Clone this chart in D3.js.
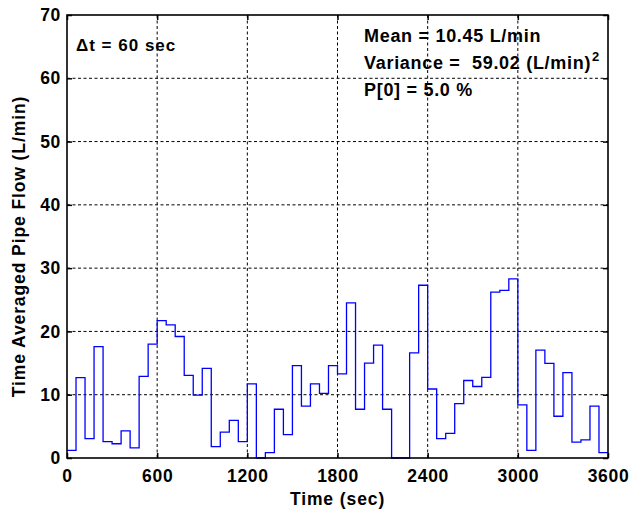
<!DOCTYPE html>
<html>
<head>
<meta charset="utf-8">
<script src="https://cdn.jsdelivr.net/npm/d3@7"></script>
<style>
  html, body { margin: 0; padding: 0; background: #fff; }
  svg { display: block; }
  text { font-family: "Liberation Sans", Arial, Helvetica, sans-serif; font-weight: bold; fill: #000; white-space: pre; }
</style>
</head>
<body>
<svg id="chart" width="635" height="516"></svg>
<script>
// Time-averaged flow, one value per 60 s interval (L/min)
const dt = 60;
const flows = [
  1.2, 12.7, 3.05, 17.6, 2.6, 2.25, 4.3, 1.6, 12.9, 18.0,
  21.7, 21.05, 19.2, 13.05, 9.95, 14.15, 1.8, 4.1, 5.95, 2.6,
  11.7, 0, 0.85, 7.7, 3.7, 14.6, 8.2, 11.7, 10.2, 14.6,
  13.3, 24.5, 7.7, 15.0, 17.85, 7.7, 0, 0, 16.6, 27.3,
  10.9, 3.05, 3.9, 8.6, 12.25, 11.3, 12.75, 26.2, 26.5, 28.3,
  8.4, 1.2, 17.05, 14.95, 6.6, 13.5, 2.5, 2.85, 8.2, 0.85
];
const xTicks = [0, 600, 1200, 1800, 2400, 3000, 3600];
const yTicks = [0, 10, 20, 30, 40, 50, 60, 70];
const xLabel = "Time (sec)";
const yLabel = "Time Averaged Pipe Flow (L/min)";
const dtNote = "\u0394t = 60 sec";
const statLines = ["Mean = 10.45 L/min", "Variance =  59.02 (L/min)", "P[0] = 5.0 %"];

const W = 635, H = 516;
const margin = { top: 15, right: 27, bottom: 58, left: 67 };
const svg = d3.select("#chart");

const x = d3.scaleLinear().domain([0, 3600]).range([margin.left, W - margin.right]);
const y = d3.scaleLinear().domain([0, 70]).range([H - margin.bottom, margin.top]);

// Dashed grid
const grid = svg.append("g").attr("stroke", "#000").attr("stroke-width", 1)
  .attr("stroke-dasharray", "3,2.5").attr("fill", "none");
xTicks.slice(1, -1).forEach(t => {
  grid.append("line").attr("x1", x(t)).attr("x2", x(t)).attr("y1", y(0)).attr("y2", y(70));
});
yTicks.slice(1, -1).forEach(t => {
  grid.append("line").attr("y1", y(t)).attr("y2", y(t)).attr("x1", x(0)).attr("x2", x(3600));
});

// Stair line: each value holds over its interval
const pts = flows.map((v, i) => [i * dt, v]);
pts.push([flows.length * dt, flows[flows.length - 1]]);
const line = d3.line().x(d => x(d[0])).y(d => y(d[1])).curve(d3.curveStepAfter);
svg.append("path").datum(pts).attr("d", line)
  .attr("fill", "none").attr("stroke", "#0000ff").attr("stroke-width", 1.3);

// Axes with inward ticks on all four sides
const fontSize = "17.5px";
const fmt = d3.format("d");
const gx = svg.append("g").attr("transform", `translate(0,${y(0)})`)
  .call(d3.axisBottom(x).tickValues(xTicks).tickFormat(fmt).tickSizeInner(-5).tickSizeOuter(0).tickPadding(12));
const gy = svg.append("g").attr("transform", `translate(${x(0)},0)`)
  .call(d3.axisLeft(y).tickValues(yTicks).tickFormat(fmt).tickSizeInner(-5).tickSizeOuter(0).tickPadding(6));
const gt = svg.append("g").attr("transform", `translate(0,${y(70)})`)
  .call(d3.axisTop(x).tickValues(xTicks).tickSizeInner(-5).tickSizeOuter(0).tickFormat(""));
const gr = svg.append("g").attr("transform", `translate(${x(3600)},0)`)
  .call(d3.axisRight(y).tickValues(yTicks).tickSizeInner(-5).tickSizeOuter(0).tickFormat(""));
[gx, gy, gt, gr].forEach(g => {
  g.select(".domain").remove();
  g.selectAll(".tick line").attr("stroke", "#000").attr("stroke-width", 1.5);
  g.selectAll("text").attr("font-size", fontSize).attr("letter-spacing", "0.7px")
    .attr("font-family", null).style("fill", "#000");
});
svg.append("rect").attr("x", x(0)).attr("y", y(70))
  .attr("width", x(3600) - x(0)).attr("height", y(0) - y(70))
  .attr("fill", "none").attr("stroke", "#000").attr("stroke-width", 1.6);

// Axis titles
svg.append("text").attr("x", (x(0) + x(3600)) / 2).attr("y", 505)
  .attr("text-anchor", "middle").attr("font-size", fontSize).attr("letter-spacing", "0.9px")
  .text(xLabel);
svg.append("text").attr("transform", `translate(25,${(y(0) + y(70)) / 2 + 10}) rotate(-90)`)
  .attr("text-anchor", "middle").attr("font-size", fontSize).attr("letter-spacing", "0.9px")
  .text(yLabel);

// Annotations
svg.append("text").attr("x", 76).attr("y", 51).attr("font-size", "17px").attr("letter-spacing", "1px")
  .text(dtNote);
const stats = svg.append("g");
stats.selectAll("text").data(statLines).join("text")
  .attr("x", 364).attr("y", (d, i) => 42 + i * 27)
  .attr("font-size", "18px").attr("letter-spacing", "0.7px")
  .text(d => d);
// Superscript on the variance units
const varNode = stats.selectAll("text").nodes()[1];
const varEnd = 364 + varNode.getComputedTextLength();
stats.append("text").attr("x", varEnd + 1).attr("y", 61)
  .attr("font-size", "13px").text("2");
</script>
</body>
</html>
